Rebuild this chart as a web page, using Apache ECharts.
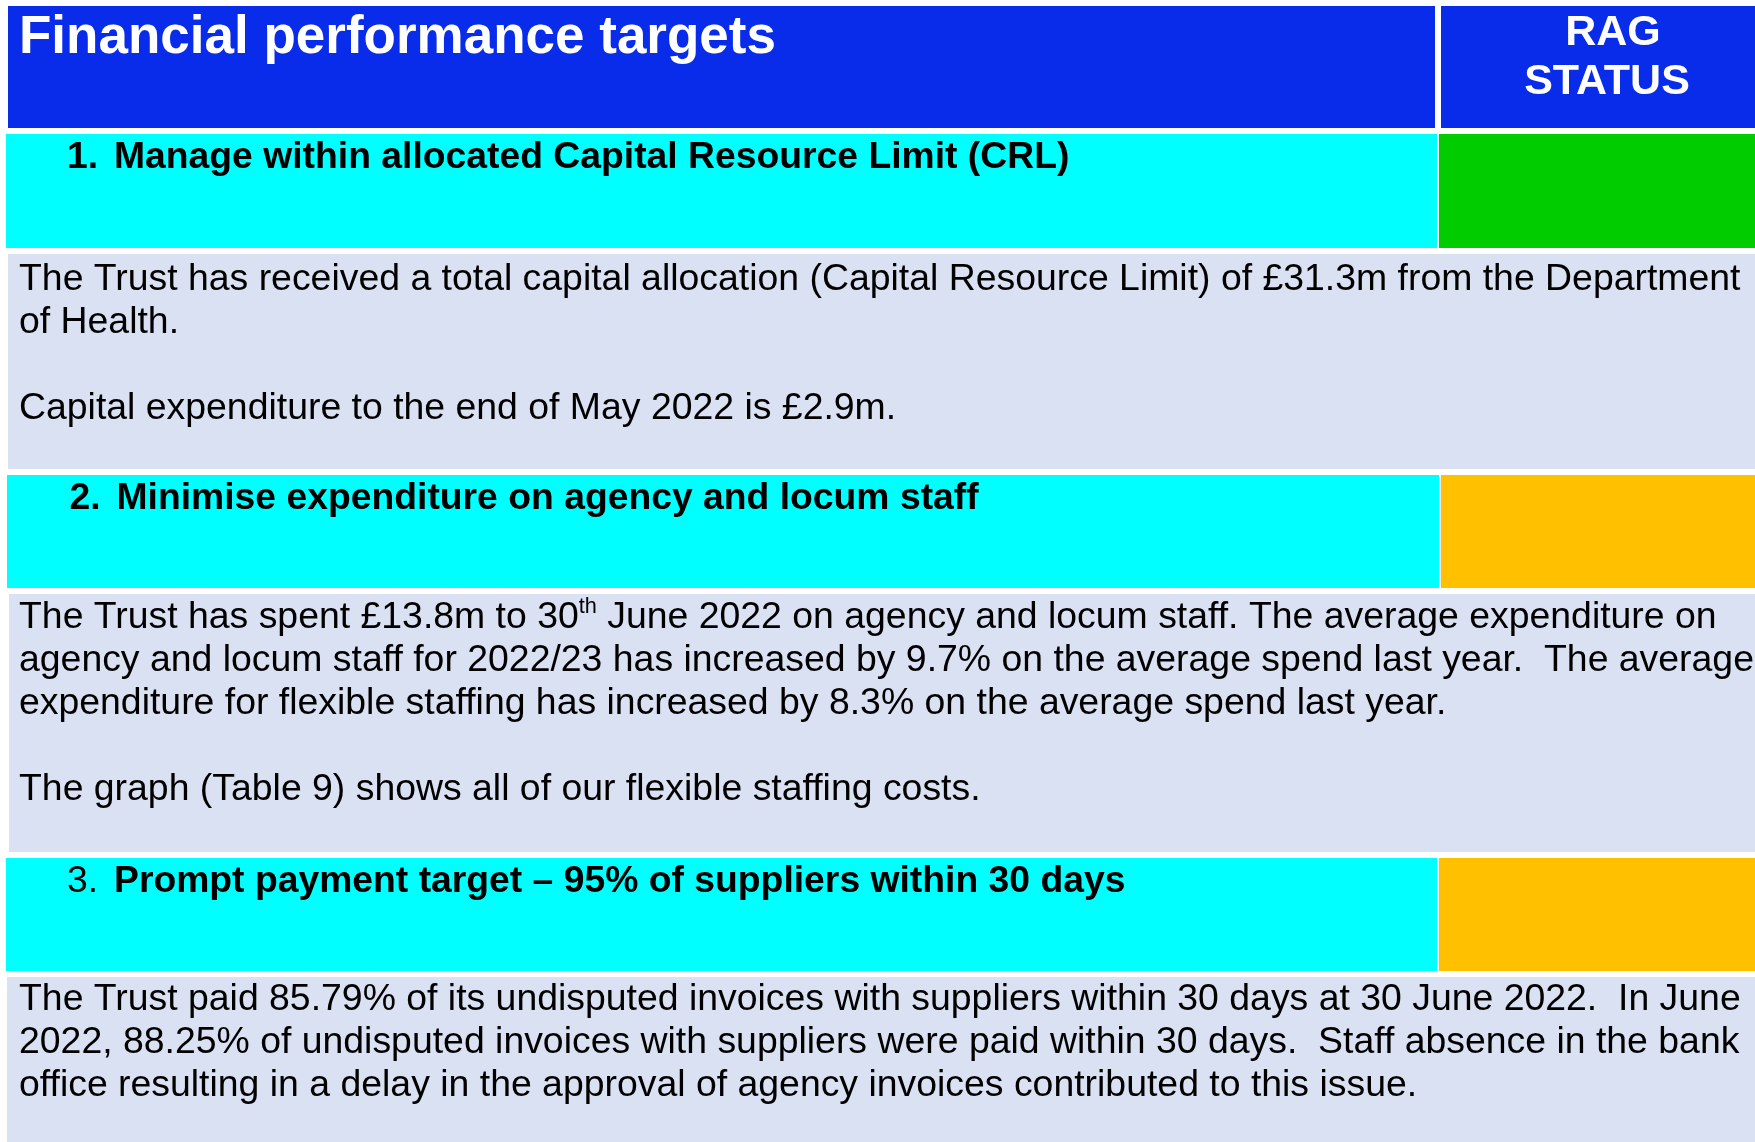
<!DOCTYPE html>
<html>
<head>
<meta charset="utf-8">
<script src="https://cdn.jsdelivr.net/npm/echarts@6/dist/echarts.min.js"></script>
<style>
html, body { margin: 0; padding: 0; background: #ffffff; }
#chart { width: 1755px; height: 1142px; }
</style>
</head>
<body>
<div id="chart"></div>
<script>
// ---------------- DATA ----------------
const headerTitle = 'Financial performance targets';
const headerStatus = ['RAG', 'STATUS'];

const sectionNumbers = ['1.', '2.', '3.'];
const sectionTitles = [
  'Manage within allocated Capital Resource Limit (CRL)',
  'Minimise expenditure on agency and locum staff',
  'Prompt payment target \u2013 95% of suppliers within 30 days'
];
const ragStatus = ['Green', 'Amber', 'Amber'];

const bodyText1 = [
  'The Trust has received a total capital allocation (Capital Resource Limit) of \u00a331.3m from the Department',
  'of Health.',
  '',
  'Capital expenditure to the end of May 2022 is \u00a32.9m.'
];
const bodyText2 = [
  'The Trust has spent \u00a313.8m to 30{sup|th} June 2022 on agency and locum staff. The average expenditure on',
  'agency and locum staff for 2022/23 has increased by 9.7% on the average spend last year.  The average',
  'expenditure for flexible staffing has increased by 8.3% on the average spend last year.',
  '',
  'The graph (Table 9) shows all of our flexible staffing costs.'
];
const bodyText3 = [
  'The Trust paid 85.79% of its undisputed invoices with suppliers within 30 days at 30 June 2022.  In June',
  '2022, 88.25% of undisputed invoices with suppliers were paid within 30 days.  Staff absence in the bank',
  'office resulting in a delay in the approval of agency invoices contributed to this issue.'
];
const bodies = [bodyText1, bodyText2, bodyText3];

// ---------------- LAYOUT / STYLE ----------------
const W = 1755, H = 1142;
const FONT = '"Liberation Sans", Arial, Helvetica, sans-serif';
const COLORS = {
  header: '#082CE9',
  section: '#00FFFF',
  body: '#D9E1F2',
  Green: '#00CC00',
  Amber: '#FFC000',
  Red: '#FF0000'
};
const GAP = 6, START = 6;
const headerH = 122;
const sectionH = [114, 113, 113];
const bodyH = [215, 258, 175];
const rowLeft = { header: 8, section: [6, 7, 6], body: [8, 9, 7] };
const splitX = { header: [1435, 1441], section: [[1437, 1439], [1439, 1441], [1437, 1439]] };
const numX = 67, titleX = 114, sectionShift = [0, 2.5, 0], bodyX = 19;
const SIZES = { title: 53, rag: 43, section: 37.3, body: 37.4, sup: 21.7 };
const bodyLineH = [43, 43, 43];
const bodyBaseline1 = [37.7, 35.5, 34.5];
const MID = 0.31; // canvas 'middle' baseline offset ratio (em box) for Liberation Sans

// compute row tops cumulatively
const headerTop = START;
const sectionTop = [], bodyTop = [];
(function () {
  let y = headerTop + headerH + GAP;
  for (let i = 0; i < sectionTitles.length; i++) {
    sectionTop.push(y); y += sectionH[i] + GAP;
    bodyTop.push(y); y += bodyH[i] + GAP;
  }
})();

function rectFrom(api, x0, y0, x1, y1, color) {
  const a = api.coord([x0, y0]);
  const b = api.coord([x1, y1]);
  return {
    type: 'rect',
    shape: { x: Math.min(a[0], b[0]), y: Math.min(a[1], b[1]), width: Math.abs(b[0] - a[0]), height: Math.abs(b[1] - a[1]) },
    style: { fill: color }
  };
}
function textAt(api, x, baseline, text, size, weight, color, align) {
  const p = api.coord([x, baseline - MID * size]);
  return {
    type: 'text',
    x: p[0], y: p[1],
    style: {
      text: text, fill: color, fontSize: size, fontFamily: FONT, fontWeight: weight,
      align: align || 'left', verticalAlign: 'middle'
    }
  };
}

function renderHeader(params, api) {
  const top = headerTop, bottom = headerTop + headerH;
  const children = [
    rectFrom(api, rowLeft.header, top, splitX.header[0], bottom, COLORS.header),
    rectFrom(api, splitX.header[1], top, W, bottom, COLORS.header),
    textAt(api, 19, top + 49, headerTitle, SIZES.title, 'bold', '#ffffff'),
    textAt(api, 1613, top + 40.7, headerStatus[0], SIZES.rag, 'bold', '#ffffff', 'center'),
    textAt(api, 1607, top + 89.7, headerStatus[1], SIZES.rag, 'bold', '#ffffff', 'center')
  ];
  return { type: 'group', children: children };
}

function renderSection(params, api) {
  const i = api.value(0);
  const top = sectionTop[i], bottom = top + sectionH[i];
  const base = top + 35.5;
  return {
    type: 'group',
    children: [
      rectFrom(api, rowLeft.section[i], top, splitX.section[i][0], bottom, COLORS.section),
      rectFrom(api, splitX.section[i][1], top, W, bottom, COLORS[ragStatus[i]]),
      textAt(api, numX + sectionShift[i], base, sectionNumbers[i], SIZES.section, i === 2 ? 'normal' : 'bold', '#000000'),
      textAt(api, titleX + sectionShift[i], base, sectionTitles[i], SIZES.section, 'bold', '#000000')
    ]
  };
}

function renderBody(params, api) {
  const i = api.value(0);
  const top = bodyTop[i], bottom = top + bodyH[i];
  const lh = bodyLineH[i];
  const fs = SIZES.body;
  // box top so that the first baseline lands at top + bodyBaseline1[i]
  const boxTop = top + bodyBaseline1[i] - (lh / 2 + MID * fs);
  const p = api.coord([bodyX, boxTop]);
  return {
    type: 'group',
    children: [
      rectFrom(api, rowLeft.body[i], top, W, bottom, COLORS.body),
      {
        type: 'text',
        x: p[0], y: p[1],
        style: {
          text: bodies[i].join('\n'),
          fill: '#000000', fontSize: fs, fontFamily: FONT, lineHeight: lh,
          align: 'left', verticalAlign: 'top',
          rich: {
            sup: { fontSize: SIZES.sup, fontFamily: FONT, fill: '#000000', lineHeight: 29, verticalAlign: 'top' }
          }
        }
      }
    ]
  };
}

const chart = echarts.init(document.getElementById('chart'), null, { renderer: 'canvas' });
chart.setOption({
  animation: false,
  backgroundColor: '#ffffff',
  grid: { left: 0, right: 0, top: 0, bottom: 0 },
  xAxis: { type: 'value', min: 0, max: W, show: false },
  yAxis: { type: 'value', min: 0, max: H, inverse: true, show: false },
  series: [
    { type: 'custom', name: 'header', renderItem: renderHeader, data: [[0]], clip: true, silent: true },
    { type: 'custom', name: 'sections', renderItem: renderSection, data: sectionTitles.map((t, i) => [i]), clip: true, silent: true },
    { type: 'custom', name: 'bodies', renderItem: renderBody, data: bodies.map((b, i) => [i]), clip: true, silent: true }
  ]
});
</script>
</body>
</html>
